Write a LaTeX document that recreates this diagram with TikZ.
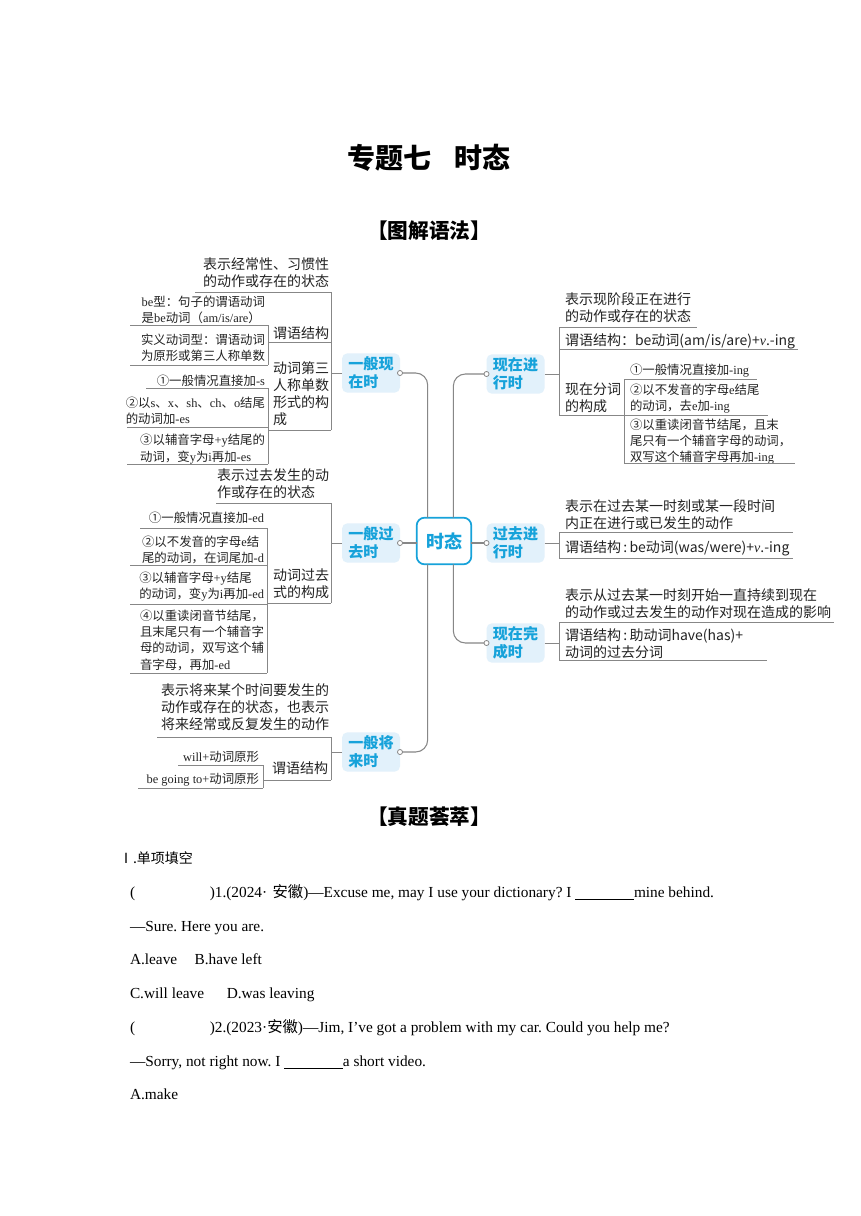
\documentclass[tikz,border=0pt]{standalone}
\usepackage{fontspec}
\setmainfont{Liberation Serif}
\newfontfamily\cjk{Noto Sans CJK SC}
\usetikzlibrary{calc}
\definecolor{topicblue}{RGB}{22,162,218}
\definecolor{topicfill}{RGB}{226,241,251}
\definecolor{linegray}{RGB}{135,135,135}
\definecolor{txt}{RGB}{35,35,35}
\newcommand{\EnT}[1]{{\rmfamily #1}}
\frenchspacing
\begin{document}
\begin{tikzpicture}[x=0.75pt,y=-0.75pt,
  every node/.style={inner sep=0pt, outer sep=0pt, text=txt},
  bigl/.style={font=\cjk\fontsize{10.5}{12.7}\selectfont, align=left, anchor=east},
  bigr/.style={font=\cjk\fontsize{10.5}{12.7}\selectfont, align=left, anchor=west},
  smalll/.style={font=\cjk\fontsize{9.3}{12.3}\selectfont, align=left, anchor=east},
  smallr/.style={font=\cjk\fontsize{9.3}{12.3}\selectfont, align=left, anchor=west},
  topic/.style={font=\cjk\bfseries\fontsize{11.3}{13.7}\selectfont, text=topicblue, fill=topicfill, rounded corners=4pt, minimum width=43.5pt, minimum height=29.5pt, align=left},
  ul/.style={draw=linegray, line width=0.6pt},
  conn/.style={draw=linegray, line width=0.8pt, rounded corners=9pt},
  dot/.style={draw=linegray, line width=0.6pt, fill=white},
  head/.style={font=\cjk\bfseries\fontsize{15.5}{18}\selectfont, text=black},
  q/.style={font=\fontsize{11.5}{13}\selectfont, anchor=base west, text=black},
]
\useasboundingbox (0,0) rectangle (860,1216);
\fill[white] (0,0) rectangle (860,1216);

% ---------- headings ----------
\node[font=\cjk\bfseries\fontsize{21}{24}\selectfont, text=black] (title) at (429,158) {专题七\hspace{0.8em}时态};
\node[head] (h1) at (429,231) {【图解语法】};
\node[head] (h2) at (429,817) {【真题荟萃】};

% ---------- centre and topics ----------
\node[draw=topicblue, line width=1.3pt, fill=white, rounded corners=6pt, minimum width=41pt, minimum height=35pt, font=\cjk\bfseries\fontsize{13.5}{16}\selectfont, text=topicblue] (cen) at (444,541) {时态};

\node[topic] (tp1) at (371,373) {一般现\\在时};
\node[topic] (tp2) at (371,543) {一般过\\去时};
\node[topic] (tp3) at (371,752) {一般将\\来时};
\node[topic] (tr1) at (515.5,374) {现在进\\行时};
\node[topic] (tr2) at (515.5,543) {过去进\\行时};
\node[topic] (tr3) at (515.5,643) {现在完\\成时};

\draw[conn] (tp1.east) -| ($(cen.north west)+(11,0)$);
\draw[conn] (tp3.east) -| ($(cen.south west)+(11,0)$);
\draw[conn] (tp2.east) -- (tp2.east -| cen.west);
\draw[conn] (tr1.west) -| ($(cen.north east)+(-18,0)$);
\draw[conn] (tr3.west) -| ($(cen.south east)+(-18,0)$);
\draw[conn] (tr2.west) -- (tr2.west -| cen.east);
\foreach \n in {tp1,tp2,tp3} \draw[dot] (\n.east) circle (1.9pt);
\foreach \n in {tr1,tr2,tr3} \draw[dot] (\n.west) circle (1.9pt);

% ---------- 一般现在时 ----------
\coordinate (bl1) at (331,373);
\draw[ul] (tp1.west) -- (bl1);
\draw[ul] (331,292) -- (331,430);
\node[bigl] (l1) at (329,272.5) {表示经常性、习惯性\\的动作或存在的状态};
\draw[ul] (195,292) -- (331,292);
\node[bigl] (l2) at (329,333) {谓语结构};
\draw[ul] (268,342) -- (331,342);
\node[bigl] (l3) at (329,394) {动词第三\\人称单数\\形式的构\\成};
\draw[ul] (268,430) -- (331,430);
\draw[ul] (268,325) -- (268,365);
\node[smalll] (l2a) at (265,310) {\EnT{be}型：句子的谓语动词\\是\EnT{be}动词（\EnT{am/is/are}）};
\draw[ul] (130,325) -- (268,325);
\node[smalll] (l2b) at (265,348) {实义动词型：谓语动词\\为原形或第三人称单数};
\draw[ul] (130,365) -- (268,365);
\draw[ul] (268,388) -- (268,464);
\node[smalll] (l3a) at (265,381) {①一般情况直接加\EnT{-s}};
\draw[ul] (146,388) -- (268,388);
\node[smalll] (l3b) at (265,410.5) {②以\EnT{s}、\EnT{x}、\EnT{sh}、\EnT{ch}、\EnT{o}结尾\\的动词加\EnT{-es}};
\draw[ul] (127,427) -- (268,427);
\node[smalll] (l3c) at (265,449) {③以辅音字母\EnT{+y}结尾的\\动词，变\EnT{y}为\EnT{i}再加\EnT{-es}};
\draw[ul] (127,464) -- (268,464);

% ---------- 一般过去时 ----------
\coordinate (bl2) at (331,543);
\draw[ul] (tp2.west) -- (bl2);
\draw[ul] (331,503) -- (331,603);
\node[bigl] (p1) at (329,484) {表示过去发生的动\\作或存在的状态};
\draw[ul] (216,503) -- (331,503);
\node[bigl] (p2) at (329,584) {动词过去\\式的构成};
\draw[ul] (267,603) -- (331,603);
\draw[ul] (267,528) -- (267,673);
\node[smalll] (p2a) at (264,518) {①一般情况直接加\EnT{-ed}};
\draw[ul] (140,528) -- (267,528);
\node[smalll] (p2b) at (264,550) {②以不发音的字母\EnT{e}结\\尾的动词，在词尾加\EnT{-d}};
\draw[ul] (130,565) -- (267,565);
\node[smalll] (p2c) at (264,586.5) {③以辅音字母\EnT{+y}结尾\\的动词，变\EnT{y}为\EnT{i}再加\EnT{-ed}};
\draw[ul] (130,604) -- (267,604);
\node[smalll] (p2d) at (264,640) {④以重读闭音节结尾，\\且末尾只有一个辅音字\\母的动词，双写这个辅\\音字母，再加\EnT{-ed}};
\draw[ul] (130,673) -- (267,673);

% ---------- 一般将来时 ----------
\coordinate (bl3) at (331,752);
\draw[ul] (tp3.west) -- (bl3);
\draw[ul] (331,737) -- (331,780);
\node[bigl] (f1) at (329,707.5) {表示将来某个时间要发生的\\动作或存在的状态，也表示\\将来经常或反复发生的动作};
\draw[ul] (157,737) -- (331,737);
\node[bigl] (f2) at (328,768) {谓语结构};
\draw[ul] (263,780) -- (331,780);
\draw[ul] (263,765) -- (263,788);
\node[smalll] (f2a) at (259,757) {\EnT{will+}动词原形};
\draw[ul] (178,765) -- (263,765);
\node[smalll] (f2b) at (259,779.5) {\EnT{be going to+}动词原形};
\draw[ul] (138,788) -- (263,788);

% ---------- 现在进行时 ----------
\coordinate (br1) at (559,374);
\draw[ul] (tr1.east) -- (br1);
\draw[ul] (559,327) -- (559,415);
\node[bigr] (r1a) at (565,308) {表示现阶段正在进行\\的动作或存在的状态};
\draw[ul] (559,327) -- (697,327);
\node[bigr] (r1b) at (565,341) {谓语结构：be动词(am/is/are)+{\rmfamily\itshape v}.-ing};
\draw[ul] (559,349) -- (798,349);
\node[bigr] (r1c) at (565,397.5) {现在分词\\的构成};
\draw[ul] (559,415) -- (624,415);
\draw[ul] (624,379) -- (624,463);
\node[smallr] (r1c1) at (630,370.5) {①一般情况直接加\EnT{-ing}};
\draw[ul] (624,379) -- (757,379);
\node[smallr] (r1c2) at (630,398.5) {②以不发音的字母\EnT{e}结尾\\的动词，去\EnT{e}加\EnT{-ing}};
\draw[ul] (624,415) -- (768,415);
\node[smallr] (r1c3) at (630,441.5) {③以重读闭音节结尾，且末\\尾只有一个辅音字母的动词，\\双写这个辅音字母再加\EnT{-ing}};
\draw[ul] (624,463) -- (795,463);

% ---------- 过去进行时 ----------
\coordinate (br2) at (559,543);
\draw[ul] (tr2.east) -- (br2);
\draw[ul] (559,532) -- (559,558);
\node[bigr] (r2a) at (565,514.5) {表示在过去某一时刻或某一段时间\\内正在进行或已发生的动作};
\draw[ul] (559,532) -- (793,532);
\node[bigr] (r2b) at (565,548) {谓语结构\,:\,be动词(was/were)+{\rmfamily\itshape v}.-ing};
\draw[ul] (559,558) -- (793,558);

% ---------- 现在完成时 ----------
\coordinate (br3) at (559,643);
\draw[ul] (tr3.east) -- (br3);
\draw[ul] (559,622) -- (559,660);
\node[bigr] (r3a) at (565,603.5) {表示从过去某一时刻开始一直持续到现在\\的动作或过去发生的动作对现在造成的影响};
\draw[ul] (559,622) -- (834,622);
\node[bigr] (r3b) at (565,643.5) {谓语结构\,:\,助动词have(has)+\\动词的过去分词};
\draw[ul] (559,660) -- (767,660);

% ---------- questions ----------
\node[font=\cjk\fontsize{10.5}{12}\selectfont, anchor=west, text=black] (sec) at (119,858) {Ⅰ.单项填空};
\node[q] (q1) at (130,897) {(\hspace{56pt})1.(2024·\hspace{4pt}{\cjk 安徽})—Excuse me, may I use your dictionary? I \underline{\hspace{44pt}}mine behind.};
\node[q] (q1b) at (130,931) {—Sure. Here you are.};
\node[q] (q1c) at (130,964) {A.leave\hspace{13pt}B.have left};
\node[q] (q1d) at (130,998) {C.will leave\hspace{17pt}D.was leaving};
\node[q] (q2) at (130,1032) {(\hspace{56pt})2.(2023·{\cjk 安徽})—Jim, I{\char"0027}ve got a problem with my car. Could you help me?};
\node[q] (q2b) at (130,1066) {—Sorry, not right now. I \underline{\hspace{44pt}}a short video.};
\node[q] (q2c) at (130,1099) {A.make};
\end{tikzpicture}
\end{document}
